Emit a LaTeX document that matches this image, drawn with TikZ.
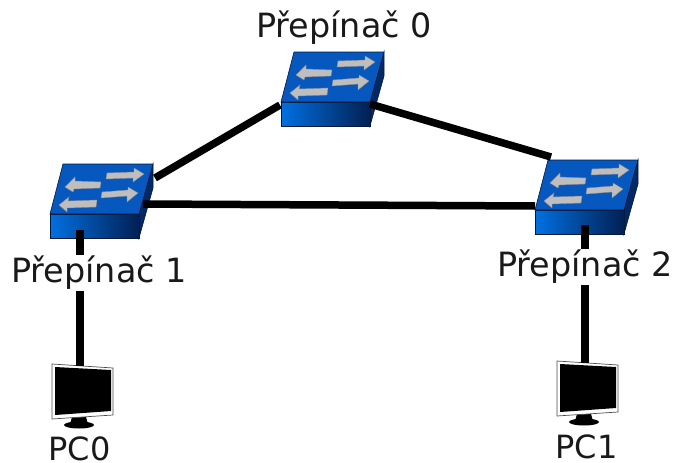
\documentclass[tikz,border=0pt]{standalone}
\usepackage{fontspec}
\setmainfont{DejaVu Sans}
\definecolor{swtop}{RGB}{6,88,190}
\definecolor{swbright}{RGB}{0,112,225}
\definecolor{swdark}{RGB}{2,32,84}
\definecolor{swside}{RGB}{3,40,100}
\definecolor{swedge}{RGB}{2,24,60}
\definecolor{swarrow}{RGB}{190,190,190}
\tikzset{
  link/.style={line width=7.5pt,black},
  lbl/.style={font=\fontsize{33.4}{36}\selectfont,text=black!90,inner sep=1pt},
  lblbg/.style={lbl,fill=white},
  pclbl/.style={font=\fontsize{32}{34}\selectfont,text=black!90,inner sep=0pt},
  swarr/.style={fill=swarrow,draw=black!45,line width=0.4pt},
  switchpic/.pic={
    \fill[swside,draw=swedge,line width=0.6pt] (89,50) -- (103,0) -- (103,24) -- (89,74) -- cycle;
    \path[left color=swbright,right color=swdark,draw=swedge,line width=0.6pt] (0,50) rectangle (89,74);
    \fill[swtop,draw=swedge,line width=0.6pt] (13,0) -- (103,0) -- (89,50) -- (0,50) -- cycle;
    \draw[swarr] (57,9) -- (84,8) -- (84,4) -- (94,10) -- (83,18) -- (83,14) -- (56,15) -- cycle;
    \draw[swarr] (52,28) -- (78,26) -- (78,23) -- (88,29) -- (77,38) -- (77,32) -- (51,34) -- cycle;
    \draw[swarr] (51,18) -- (25,17) -- (25,13) -- (15,23) -- (23,28) -- (24,25) -- (50,24) -- cycle;
    \draw[swarr] (47,36) -- (18,37) -- (19,33) -- (9,41) -- (17,48) -- (17,44) -- (46,43) -- cycle;
  },
  monitorpic/.pic={
    \fill[black] (0,61) ellipse (15 and 3.5);
    \fill[black] (-7,53) -- (7,53) -- (9,60) -- (-9,60) -- cycle;
    \draw[black!70,fill=white,line width=0.7pt] (-27,0) -- (34,4) -- (34,51) -- (-27,55) -- cycle;
    \fill[black] (-24,3) -- (32,6) -- (32,47) -- (-24,51) -- cycle;
  }
}
\begin{document}
\begin{tikzpicture}[x=1pt,y=-1pt]
\useasboundingbox (0,0) rectangle (675,463);
\pic at (281,52) {switchpic};
\pic at (50,164) {switchpic};
\pic at (535,160) {switchpic};
\pic at (79,364) {monitorpic};
\pic at (584,361) {monitorpic};
\coordinate (s0l) at (280,105);
\coordinate (s0r) at (370,104);
\coordinate (s1r) at (155,178);
\coordinate (s1e) at (143,204);
\coordinate (s1b) at (80,230);
\coordinate (s2l) at (551,157);
\coordinate (s2e) at (535,206);
\coordinate (s2b) at (585,225);
\coordinate (pc0) at (80,366);
\coordinate (pc1) at (585,363);
\draw[link] (s0l) -- (s1r);
\draw[link] (s0r) -- (s2l);
\draw[link] (s1e) -- (s2e);
\draw[link] (s1b) -- (pc0);
\draw[link] (s2b) -- (pc1);
\node[lbl] (t0) at (344,28) {Přepínač 0};
\node[lblbg] (t1) at (99,273) {Přepínač 1};
\node[lblbg] (t2) at (585,267) {Přepínač 2};
\node[pclbl] (t3) at (79.5,449) {PC0};
\node[pclbl] (t4) at (586.5,447) {PC1};
\end{tikzpicture}
\end{document}
